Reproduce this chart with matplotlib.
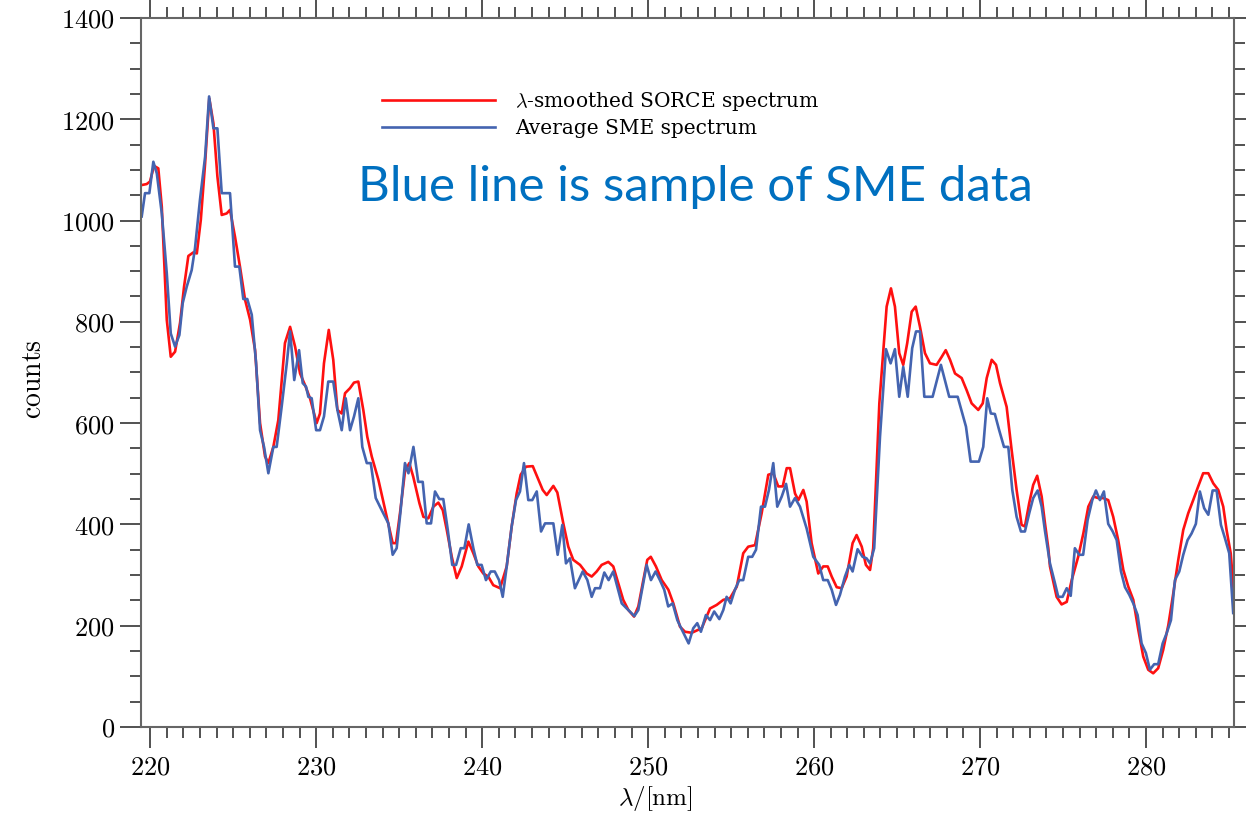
import matplotlib
matplotlib.use("Agg")
import matplotlib.pyplot as plt
from matplotlib.ticker import MultipleLocator

plt.rcParams["mathtext.fontset"] = "cm"

# lambda-smoothed SORCE spectrum (red)
sorce_wl = [219.49, 219.79, 219.99, 220.23, 220.49, 220.70, 221.00, 221.24, 221.50, 221.80,
            222.04, 222.30, 222.60, 222.81, 223.05, 223.31, 223.56, 223.81, 224.05, 224.31,
            224.61, 224.81, 225.11, 225.41, 225.72, 226.02, 226.32, 226.62, 226.92, 227.12,
            227.42, 227.72, 228.12, 228.43, 228.73, 229.03, 229.33, 229.63, 230.03, 230.23,
            230.47, 230.76, 231.03, 231.28, 231.54, 231.74, 232.04, 232.28, 232.54, 232.84,
            233.08, 233.35, 233.75, 234.25, 234.61, 234.81, 235.05, 235.35, 235.61, 235.85,
            236.22, 236.46, 236.76, 237.06, 237.36, 237.63, 237.87, 238.17, 238.47, 238.77,
            239.17, 239.47, 239.77, 240.07, 240.37, 240.67, 241.08, 241.48, 241.78, 242.08,
            242.32, 242.64, 243.05, 243.32, 243.65, 243.89, 244.29, 244.53, 244.89, 245.19,
            245.49, 245.90, 246.30, 246.60, 246.90, 247.20, 247.60, 247.90, 248.20, 248.50,
            248.81, 249.15, 249.41, 249.71, 249.95, 250.16, 250.47, 250.82, 251.22, 251.52,
            251.92, 252.22, 252.63, 253.02, 253.23, 253.73, 254.13, 254.53, 254.93, 255.34,
            255.73, 256.03, 256.44, 256.84, 257.24, 257.54, 257.84, 258.11, 258.35, 258.55,
            258.85, 259.05, 259.35, 259.55, 259.85, 260.25, 260.55, 260.82, 261.06, 261.36,
            261.66, 261.96, 262.32, 262.56, 262.87, 263.12, 263.37, 263.56, 263.93, 264.37,
            264.63, 264.87, 265.13, 265.37, 265.61, 265.88, 266.12, 266.38, 266.68, 266.98,
            267.38, 267.69, 267.93, 268.19, 268.49, 268.89, 269.19, 269.49, 269.89, 270.16,
            270.40, 270.70, 270.96, 271.20, 271.60, 271.90, 272.20, 272.50, 272.70, 272.96,
            273.20, 273.44, 273.71, 273.91, 274.11, 274.21, 274.61, 274.91, 275.22, 275.52,
            275.91, 276.22, 276.52, 276.82, 277.12, 277.42, 277.72, 278.02, 278.32, 278.63,
            278.93, 279.23, 279.53, 279.83, 280.13, 280.43, 280.73, 281.03, 281.34, 281.64,
            281.94, 282.24, 282.54, 282.84, 283.14, 283.44, 283.75, 284.05, 284.35, 284.65,
            284.85, 285.10, 285.29]
sorce_counts = [1070, 1072, 1077, 1108, 1103, 1027, 804, 731, 741, 798,
                869, 930, 937, 935, 1001, 1113, 1241, 1192, 1087, 1011,
                1014, 1021, 968, 909, 843, 804, 744, 600, 534, 521,
                553, 606, 758, 790, 751, 698, 675, 649, 600, 619,
                718, 784, 725, 626, 619, 659, 669, 680, 682, 626,
                573, 534, 488, 415, 363, 363, 422, 504, 521, 494,
                442, 415, 412, 435, 443, 428, 389, 336, 294, 317,
                366, 343, 317, 303, 297, 280, 274, 317, 396, 461,
                498, 514, 515, 494, 468, 458, 476, 463, 402, 356,
                330, 320, 303, 297, 307, 320, 326, 317, 284, 251,
                231, 218, 238, 290, 330, 336, 317, 290, 271, 244,
                198, 188, 186, 192, 195, 234, 241, 251, 254, 277,
                343, 356, 359, 422, 498, 501, 475, 475, 511, 511,
                461, 448, 468, 445, 363, 303, 317, 317, 297, 276,
                274, 297, 363, 379, 356, 320, 310, 353, 639, 830,
                866, 830, 738, 715, 758, 820, 830, 790, 738, 718,
                715, 731, 744, 725, 698, 689, 665, 639, 626, 639,
                689, 725, 715, 679, 632, 547, 468, 399, 396, 442,
                478, 496, 455, 402, 353, 317, 257, 242, 247, 290,
                336, 382, 435, 455, 452, 452, 448, 415, 369, 310,
                277, 251, 192, 139, 113, 106, 116, 152, 201, 264,
                330, 389, 422, 448, 475, 501, 501, 481, 468, 435,
                389, 343, 264]

# average SME spectrum (blue)
sme_wl = [219.49, 219.69, 219.95, 220.19, 220.40, 220.70, 221.00, 221.24, 221.50, 221.76,
          221.96, 222.20, 222.50, 222.70, 223.00, 223.31, 223.55, 223.81, 224.05, 224.31,
          224.81, 225.11, 225.37, 225.61, 225.85, 226.12, 226.38, 226.62, 226.86, 227.12,
          227.42, 227.62, 227.92, 228.23, 228.43, 228.68, 228.97, 229.19, 229.39, 229.53,
          229.73, 230.00, 230.23, 230.47, 230.73, 231.03, 231.28, 231.54, 231.78, 232.04,
          232.28, 232.54, 232.78, 233.05, 233.29, 233.59, 233.95, 234.35, 234.61, 234.85,
          235.09, 235.35, 235.56, 235.86, 236.15, 236.42, 236.66, 236.92, 237.16, 237.42,
          237.66, 237.93, 238.20, 238.43, 238.71, 238.93, 239.19, 239.47, 239.71, 239.97,
          240.23, 240.52, 240.76, 241.02, 241.24, 241.48, 241.78, 242.04, 242.28, 242.52,
          242.78, 243.02, 243.29, 243.55, 243.79, 244.29, 244.55, 244.83, 245.05, 245.29,
          245.59, 246.06, 246.34, 246.60, 246.80, 247.10, 247.36, 247.62, 247.90, 248.14,
          248.41, 248.71, 249.17, 249.41, 249.67, 249.91, 250.17, 250.45, 250.71, 250.97,
          251.21, 251.48, 251.76, 252.02, 252.44, 252.72, 252.96, 253.18, 253.48, 253.73,
          253.98, 254.29, 254.53, 254.73, 254.97, 255.23, 255.49, 255.73, 256.03, 256.27,
          256.50, 256.80, 257.04, 257.28, 257.54, 257.78, 258.05, 258.31, 258.55, 258.85,
          259.15, 259.55, 259.95, 260.31, 260.55, 260.82, 261.06, 261.32, 261.56, 261.86,
          262.12, 262.32, 262.62, 262.92, 263.16, 263.37, 263.62, 263.97, 264.33, 264.61,
          264.87, 265.13, 265.37, 265.64, 265.91, 266.14, 266.38, 266.64, 267.14, 267.64,
          268.14, 268.65, 269.15, 269.43, 269.93, 270.19, 270.43, 270.65, 270.89, 271.15,
          271.44, 271.70, 271.94, 272.20, 272.46, 272.70, 272.96, 273.20, 273.47, 273.71,
          273.91, 274.21, 274.51, 274.71, 274.97, 275.22, 275.46, 275.71, 275.97, 276.21,
          276.48, 276.76, 276.98, 277.22, 277.46, 277.72, 277.99, 278.23, 278.49, 278.73,
          278.99, 279.23, 279.49, 279.73, 279.99, 280.23, 280.49, 280.73, 281.00, 281.24,
          281.50, 281.74, 282.00, 282.24, 282.50, 282.74, 283.00, 283.24, 283.50, 283.75,
          284.01, 284.25, 284.51, 284.75, 285.01, 285.25]
sme_counts = [1008, 1054, 1054, 1116, 1093, 1014, 896, 777, 751, 774,
              837, 869, 902, 945, 1041, 1126, 1245, 1182, 1182, 1054,
              1054, 909, 909, 845, 845, 814, 719, 586, 553, 501,
              553, 553, 632, 718, 781, 685, 744, 679, 672, 652,
              649, 586, 586, 613, 682, 682, 626, 586, 649, 586,
              613, 649, 553, 521, 521, 452, 428, 402, 340, 353,
              428, 521, 501, 553, 484, 484, 402, 402, 465, 450,
              450, 389, 320, 320, 353, 353, 400, 353, 320, 320,
              290, 307, 307, 290, 257, 317, 396, 448, 465, 521,
              448, 448, 465, 386, 402, 402, 340, 399, 323, 333,
              274, 307, 290, 257, 274, 274, 305, 290, 307, 277,
              244, 234, 219, 231, 277, 320, 290, 307, 290, 271,
              238, 244, 211, 193, 165, 195, 205, 188, 221, 211,
              228, 213, 231, 257, 244, 271, 290, 290, 336, 336,
              350, 435, 435, 468, 521, 435, 455, 480, 435, 452,
              435, 392, 336, 320, 290, 290, 271, 241, 261, 297,
              320, 307, 351, 336, 333, 323, 353, 573, 746, 718,
              746, 652, 711, 652, 748, 781, 781, 652, 652, 715,
              652, 652, 593, 524, 524, 553, 649, 619, 618, 586,
              553, 553, 468, 415, 386, 386, 422, 452, 467, 435,
              387, 323, 284, 257, 257, 274, 259, 353, 340, 340,
              409, 448, 467, 448, 465, 401, 386, 369, 307, 276,
              261, 244, 221, 165, 146, 113, 124, 124, 165, 185,
              211, 290, 307, 340, 369, 382, 401, 465, 432, 419,
              467, 467, 399, 373, 343, 225]

labels = [r"$\lambda$-smoothed SORCE spectrum", "Average SME spectrum"]
note = "Blue line is sample of SME data"

fig = plt.figure(figsize=(12.46, 8.15), dpi=100)
ax = fig.add_axes([0.1132, 0.108, 0.8772, 0.870])

ax.plot(sorce_wl, sorce_counts, color="#ff1010", lw=1.9, label=labels[0])
ax.plot(sme_wl, sme_counts, color="#4464b0", lw=1.9, label=labels[1])

ax.set_xlim(219.45, 285.3)
ax.set_ylim(0, 1400)
ax.xaxis.set_major_locator(MultipleLocator(10))
ax.xaxis.set_minor_locator(MultipleLocator(1))
ax.yaxis.set_major_locator(MultipleLocator(200))
ax.yaxis.set_minor_locator(MultipleLocator(50))
ax.tick_params(which="both", direction="out", top=True, right=True, color="#333333", width=1.2)
ax.tick_params(which="major", length=15)
ax.tick_params(which="minor", length=8)
ax.tick_params(axis="y", pad=4)
ax.tick_params(axis="x", pad=5)
ax.xaxis.set_major_formatter(plt.FuncFormatter(lambda v, p: r"$%d$" % v))
ax.yaxis.set_major_formatter(plt.FuncFormatter(lambda v, p: r"$%d$" % v))
for lab in ax.get_xticklabels() + ax.get_yticklabels():
    lab.set_fontsize(19)
for s in ax.spines.values():
    s.set_color("#666666")
    s.set_linewidth(1.5)

ax.set_xlabel(r"$\lambda/[\mathrm{nm}]$", fontsize=18)
ax.xaxis.set_label_coords(0.471, -0.081)
ax.set_ylabel(r"$\mathrm{counts}$", fontsize=20)
ax.yaxis.set_label_coords(-0.086, 0.49)

leg = ax.legend(loc="upper left", bbox_to_anchor=(0.2205, 0.898), frameon=False,
                borderpad=0, borderaxespad=0, handlelength=5.6, handletextpad=1.0,
                labelspacing=0.3, prop={"family": "DejaVu Serif", "size": 14.5})

ax.text(0.507, 0.762, note, transform=ax.transAxes, ha="center", va="center",
        fontsize=35.5, family="Lato", color="#0070c0")

fig.savefig("out.png", dpi=100)
